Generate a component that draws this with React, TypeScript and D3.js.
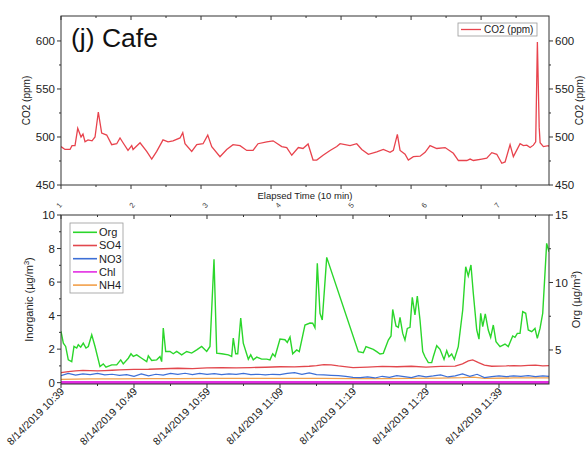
import React from 'react';
import * as d3 from 'd3';

const W = 588;
const H = 450;

// ---------- Top panel: CO2 (minutes elapsed from start) ----------
const co2Minutes = [0, 0.57, 1.29, 1.57, 2.0, 2.39, 2.86, 3.14, 3.43, 3.86, 4.43, 4.86, 5.33, 5.81, 6.53, 7.24, 7.96, 8.43, 8.86, 9.57, 10.1, 10.29, 11.29, 12.24, 12.96, 13.67, 14.57, 15.29, 16.0, 17.0, 17.39, 17.71, 18.67, 19.39, 20.29, 20.96, 21.53, 22.71, 23.67, 24.57, 25.57, 26.53, 27.43, 28.14, 29.39, 30.29, 31.53, 32.24, 32.96, 33.9, 34.57, 35.29, 36.0, 36.53, 37.43, 38.43, 39.39, 39.86, 41.29, 42.24, 42.96, 43.9, 45.1, 46.04, 47.0, 47.47, 48.04, 48.43, 49.14, 49.61, 50.33, 51.29, 52.0, 52.71, 53.67, 54.86, 56.04, 56.76, 57.96, 58.43, 58.9, 60.1, 60.81, 61.53, 62.24, 62.96, 63.43, 64.14, 64.61, 65.57, 66.04, 66.53, 67.0, 67.47, 67.8, 68.04, 68.3, 68.43, 68.9, 69.61, 69.7];
const co2Ppm = [490, 487, 487, 491, 491, 509, 500, 503, 495, 497, 496, 500, 526, 504, 502, 492, 493, 499, 494, 486, 491, 487, 494, 485, 477, 485, 497, 495, 496, 499, 504.5, 493, 485, 492, 493, 502, 490, 479.5, 487, 492, 491, 486, 486, 493, 495, 496, 490, 489, 481, 489, 488, 492.7, 476, 476, 481, 486, 490, 493, 491, 493, 487, 482, 484.5, 487, 484, 486, 502.8, 486, 482, 476, 479.5, 480, 484, 491, 488, 489, 483, 475.5, 475.5, 477, 475.5, 477, 478, 483.7, 482, 472.6, 474, 492, 479.5, 493, 491, 491.5, 489, 491.5, 495, 599, 510, 494, 490, 491, 490];

// ---------- Bottom panel (minutes from 8/14/2019 10:39) ----------
const orgMinutes = [0, 0.32, 0.64, 1.0, 1.47, 1.78, 2.15, 2.37, 2.7, 3.05, 3.42, 3.74, 4.21, 4.66, 5.34, 5.79, 6.16, 6.95, 7.63, 8.18, 8.53, 9.22, 9.59, 9.9, 10.37, 11.05, 11.74, 11.96, 12.42, 13.11, 13.56, 13.79, 14.01, 14.34, 14.93, 15.38, 15.85, 16.53, 17.22, 17.9, 18.59, 19.27, 19.96, 20.41, 20.96, 21.33, 22.01, 22.92, 23.38, 23.6, 23.93, 24.21, 24.62, 24.97, 25.66, 25.99, 26.34, 26.81, 27.49, 28.18, 28.63, 29.0, 29.32, 30.0, 30.68, 31.0, 31.37, 31.74, 32.29, 32.64, 33.42, 34.11, 34.48, 34.79, 35.11, 35.48, 35.79, 36.4, 40.73, 41.41, 41.78, 42.78, 43.25, 43.7, 44.15, 44.84, 45.21, 45.44, 45.89, 46.21, 46.44, 46.81, 47.12, 47.44, 47.81, 48.12, 48.49, 48.81, 49.18, 49.55, 49.86, 50.32, 50.78, 51.0, 51.47, 51.92, 52.47, 52.84, 53.15, 53.52, 53.88, 54.42, 55.03, 55.44, 55.79, 56.16, 56.48, 56.95, 57.26, 57.49, 57.77, 58.12, 58.53, 58.86, 59.22, 59.59, 60.14, 60.82, 61.27, 61.88, 62.19, 62.51, 62.88, 63.25, 63.66, 64.01, 64.48, 64.93, 65.25, 65.62, 65.99, 66.53, 66.85];
const orgValues = [6.38, 5.51, 5.26, 4.27, 4.14, 5.26, 5.14, 5.39, 5.21, 5.51, 5.14, 5.26, 6.13, 5.26, 3.77, 3.97, 3.72, 3.9, 3.9, 4.27, 3.97, 4.39, 4.72, 4.52, 4.64, 4.39, 4.14, 4.57, 4.22, 4.27, 4.52, 4.14, 6.63, 4.89, 4.89, 4.72, 4.89, 4.64, 4.89, 4.77, 5.01, 5.26, 4.89, 5.26, 11.72, 4.77, 4.72, 4.64, 4.52, 5.88, 4.72, 4.72, 7.37, 5.51, 4.32, 4.64, 4.27, 4.47, 4.32, 4.32, 4.27, 4.72, 4.52, 5.81, 5.76, 5.56, 5.96, 4.72, 5.0, 4.88, 6.85, 7.0, 6.98, 6.65, 11.42, 7.72, 7.22, 11.86, 4.88, 4.8, 5.25, 5.05, 4.88, 4.7, 4.75, 5.74, 6.04, 8.0, 6.78, 6.68, 7.42, 6.23, 5.74, 6.6, 6.68, 8.9, 7.6, 9.0, 7.22, 4.88, 4.5, 4.06, 4.06, 4.5, 5.32, 5.05, 4.3, 4.95, 4.5, 4.7, 4.3, 5.25, 7.96, 11.17, 10.48, 11.3, 9.2, 6.48, 5.8, 7.72, 6.73, 7.67, 6.48, 5.94, 6.85, 5.62, 5.25, 5.44, 5.25, 6.04, 5.94, 6.23, 6.23, 7.84, 7.72, 6.48, 6.36, 6.6, 5.86, 6.6, 7.72, 12.9, 12.28];

const so4Minutes = [0, 1, 2, 3, 4, 5, 6, 7, 8, 10, 12, 14, 16, 18, 20, 22, 24, 26, 28, 30, 32, 34, 35, 36, 37, 38, 40, 42, 44, 46, 48, 50, 52, 54, 55, 55.8, 56.4, 57.2, 58, 59, 61, 62, 63, 64, 65, 66, 66.85];
const so4Values = [0.6, 0.66, 0.7, 0.73, 0.72, 0.7, 0.72, 0.74, 0.76, 0.79, 0.8, 0.83, 0.86, 0.84, 0.88, 0.9, 0.88, 0.9, 0.92, 0.95, 0.94, 0.98, 1.02, 1.08, 1.06, 1.0, 0.9, 0.93, 0.97, 0.95, 0.98, 0.93, 0.97, 0.99, 1.12, 1.3, 1.36, 1.2, 1.05, 0.98, 1.0, 1.02, 1.0, 1.03, 1.04, 1.0, 1.02];

const no3Minutes = [0, 1, 2, 3, 4, 5, 6, 7, 8, 9, 10, 11, 12, 13, 14, 15, 16, 17, 18, 19, 20, 21, 22, 23, 24, 25, 26, 27, 28, 29, 30, 31, 32, 33, 34, 35, 36, 37, 38, 39, 40, 41, 42, 43, 44, 45, 46, 47, 48, 49, 50, 51, 52, 53, 54, 55, 56, 57, 58, 59, 60, 61, 62, 63, 64, 65, 66, 66.85];
const no3Values = [0.42, 0.55, 0.45, 0.52, 0.48, 0.55, 0.46, 0.5, 0.44, 0.48, 0.38, 0.52, 0.4, 0.5, 0.45, 0.55, 0.5, 0.56, 0.48, 0.55, 0.5, 0.54, 0.48, 0.52, 0.5, 0.55, 0.48, 0.5, 0.46, 0.5, 0.48, 0.55, 0.6, 0.5, 0.58, 0.48, 0.46, 0.44, 0.42, 0.38, 0.32, 0.3, 0.34, 0.28, 0.38, 0.32, 0.42, 0.36, 0.3, 0.42, 0.35, 0.4, 0.46, 0.34, 0.4, 0.52, 0.38, 0.5, 0.3, 0.36, 0.4, 0.36, 0.4, 0.38, 0.42, 0.36, 0.4, 0.38];

const nh4Minutes = [0, 4, 8, 12, 16, 20, 24, 28, 32, 36, 40, 44, 48, 52, 55, 56.5, 58, 62, 66.85];
const nh4Values = [0.2, 0.22, 0.22, 0.24, 0.24, 0.25, 0.25, 0.26, 0.26, 0.25, 0.24, 0.24, 0.25, 0.27, 0.3, 0.33, 0.26, 0.28, 0.29];

const chlMinutes = [0, 20, 40, 66.85];
const chlValues = [0.01, 0.01, 0.01, 0.01];

const elapsedTickLabels = ['1', '2', '3', '4', '5', '6', '7'];
const timeTickLabels = ['8/14/2019 10:39', '8/14/2019 10:49', '8/14/2019 10:59', '8/14/2019 11:09', '8/14/2019 11:19', '8/14/2019 11:29', '8/14/2019 11:39'];
const co2Ticks = [450, 500, 550, 600];
const inorgTicks = [0, 2, 4, 6, 8, 10];
const orgTicks = [5, 10, 15];

const legendItems = [
  { name: 'Org', color: '#2bd62b' },
  { name: 'SO4', color: '#e2474d' },
  { name: 'NO3', color: '#3d6fd6' },
  { name: 'Chl', color: '#e22de2' },
  { name: 'NH4', color: '#f2a04a' },
];

const FONT = 'Liberation Sans, Arial, sans-serif';
const AX = '#333';

export default function App() {
  const L = 61, R = 549;
  const tT = 16, tB = 185;
  const bT = 215, bB = 384;

  const xTop = d3.scaleLinear().domain([0, 69.7]).range([L, R]);
  const yTop = d3.scaleLinear().domain([450, 626]).range([tB, tT]);
  const xBot = d3.scaleLinear().domain([0, 66.85]).range([L, R]);
  const yIn = d3.scaleLinear().domain([-0.08, 10]).range([bB, bT]);
  const yOrg = d3.scaleLinear().domain([2.48, 15]).range([bB, bT]);

  const mkLine = (xs: number[], vs: number[], xs_: any, ys_: any) => {
    const g = d3.line<number>().x((_, i) => xs_(xs[i])).y((v) => ys_(v));
    return g(vs) || '';
  };

  const co2Path = mkLine(co2Minutes, co2Ppm, xTop, yTop);
  const orgPath = mkLine(orgMinutes, orgValues, xBot, yOrg);
  const so4Path = mkLine(so4Minutes, so4Values, xBot, yIn);
  const no3Path = mkLine(no3Minutes, no3Values, xBot, yIn);
  const nh4Path = mkLine(nh4Minutes, nh4Values, xBot, yIn);
  const chlPath = mkLine(chlMinutes, chlValues, xBot, yIn);

  const topMajor = d3.range(0, 61, 10);
  const topMinor = d3.range(5, 70, 10);
  const botMajor = d3.range(0, 61, 10);
  const botMinor = d3.range(5, 67, 10);
  const co2Minor = [475, 525, 575];
  const inMinor = [1, 3, 5, 7, 9];
  const orgMinor = [7.5, 12.5];

  return (
    <svg width={W} height={H} style={{ position: 'absolute', left: 0, top: 0, background: '#fff' }} fontFamily={FONT}>
      <defs>
        <clipPath id="clipTop"><rect x={L} y={tT} width={R - L} height={tB - tT} /></clipPath>
        <clipPath id="clipBot"><rect x={L} y={bT} width={R - L} height={bB - bT} /></clipPath>
      </defs>

      {/* ===== Top panel ===== */}
      <g clipPath="url(#clipTop)">
        <path d={co2Path} fill="none" stroke="#e8434d" strokeWidth={1.3} />
      </g>
      <rect x={L} y={tT} width={R - L} height={tB - tT} fill="none" stroke={AX} strokeWidth={1} />
      {topMajor.map((m) => (
        <g key={'tm' + m}>
          <line x1={xTop(m)} x2={xTop(m)} y1={tB} y2={tB + 4} stroke={AX} />
          <line x1={xTop(m)} x2={xTop(m)} y1={tT} y2={tT + 4} stroke={AX} />
        </g>
      ))}
      {topMinor.map((m) => (
        <g key={'tn' + m}>
          <line x1={xTop(m)} x2={xTop(m)} y1={tB} y2={tB + 2} stroke={AX} />
          <line x1={xTop(m)} x2={xTop(m)} y1={tT} y2={tT + 2} stroke={AX} />
        </g>
      ))}
      {co2Ticks.map((v) => (
        <g key={'c' + v}>
          <line x1={L - 4} x2={L} y1={yTop(v)} y2={yTop(v)} stroke={AX} />
          <line x1={R} x2={R + 4} y1={yTop(v)} y2={yTop(v)} stroke={AX} />
          <text x={L - 6} y={yTop(v)} dy="0.35em" textAnchor="end" fontSize={11.5} fill="#222">{v}</text>
          <text x={R + 6} y={yTop(v)} dy="0.35em" textAnchor="start" fontSize={11.5} fill="#222">{v}</text>
        </g>
      ))}
      {co2Minor.map((v) => (
        <g key={'cm' + v}>
          <line x1={L - 2} x2={L} y1={yTop(v)} y2={yTop(v)} stroke={AX} />
          <line x1={R} x2={R + 2} y1={yTop(v)} y2={yTop(v)} stroke={AX} />
        </g>
      ))}
      <text transform={`translate(30,${(tT + tB) / 2}) rotate(-90)`} textAnchor="middle" fontSize={10} fill="#222">CO2 (ppm)</text>
      <text transform={`translate(583,${(tT + tB) / 2}) rotate(-90)`} textAnchor="middle" fontSize={10} fill="#222">CO2 (ppm)</text>
      <text x={71} y={47} fontSize={26.5} fill="#111">(j) Cafe</text>
      <rect x={458} y={23} width={79} height={13} fill="#fff" stroke="#999" strokeWidth={0.8} />
      <line x1={461} x2={481} y1={29.5} y2={29.5} stroke="#e8434d" strokeWidth={1.3} />
      <text x={484} y={29.5} dy="0.35em" fontSize={10} fill="#222">CO2 (ppm)</text>

      {/* ===== Bottom panel ===== */}
      <g clipPath="url(#clipBot)">
        <path d={chlPath} fill="none" stroke="#e22de2" strokeWidth={3} />
        <path d={nh4Path} fill="none" stroke="#f2a04a" strokeWidth={1.3} />
        <path d={no3Path} fill="none" stroke="#3d6fd6" strokeWidth={1.2} />
        <path d={so4Path} fill="none" stroke="#e2474d" strokeWidth={1.3} />
        <path d={orgPath} fill="none" stroke="#2bd62b" strokeWidth={1.4} />
      </g>
      <rect x={L} y={bT} width={R - L} height={bB - bT} fill="none" stroke={AX} strokeWidth={1} />
      {botMajor.map((m, i) => (
        <g key={'bm' + m}>
          <line x1={xBot(m)} x2={xBot(m)} y1={bT} y2={bT + 4} stroke={AX} />
          <line x1={xBot(m)} x2={xBot(m)} y1={bB} y2={bB + 4} stroke={AX} />
          <text transform={`translate(${xBot(m)},207) rotate(-50)`} textAnchor="middle" fontSize={7.5} fill="#444">{elapsedTickLabels[i]}</text>
          <text transform={`translate(${xBot(m) + 4},392) rotate(-45)`} textAnchor="end" fontSize={10.5} fill="#222">{timeTickLabels[i]}</text>
        </g>
      ))}
      {botMinor.map((m) => (
        <g key={'bn' + m}>
          <line x1={xBot(m)} x2={xBot(m)} y1={bT} y2={bT + 2} stroke={AX} />
          <line x1={xBot(m)} x2={xBot(m)} y1={bB} y2={bB + 2} stroke={AX} />
        </g>
      ))}
      <text x={305} y={199} textAnchor="middle" fontSize={9.5} fill="#222">Elapsed Time (10 min)</text>
      {inorgTicks.map((v) => (
        <g key={'i' + v}>
          <line x1={L - 4} x2={L} y1={yIn(v)} y2={yIn(v)} stroke={AX} />
          <text x={L - 6} y={yIn(v)} dy="0.35em" textAnchor="end" fontSize={11.5} fill="#222">{v}</text>
        </g>
      ))}
      {inMinor.map((v) => (
        <line key={'im' + v} x1={L - 2} x2={L} y1={yIn(v)} y2={yIn(v)} stroke={AX} />
      ))}
      {orgTicks.map((v) => (
        <g key={'o' + v}>
          <line x1={R} x2={R + 4} y1={yOrg(v)} y2={yOrg(v)} stroke={AX} />
          <text x={R + 6} y={yOrg(v)} dy="0.35em" textAnchor="start" fontSize={11.5} fill="#222">{v}</text>
        </g>
      ))}
      {orgMinor.map((v) => (
        <line key={'om' + v} x1={R} x2={R + 2} y1={yOrg(v)} y2={yOrg(v)} stroke={AX} />
      ))}
      <text transform={`translate(33,${(bT + bB) / 2}) rotate(-90)`} textAnchor="middle" fontSize={11} fill="#222">
        Inorganic (µg/m<tspan dy="-4" fontSize={7.5}>3</tspan><tspan dy="4">)</tspan>
      </text>
      <text transform={`translate(580,${(bT + bB) / 2}) rotate(-90)`} textAnchor="middle" fontSize={11} fill="#222">
        Org (µg/m<tspan dy="-4" fontSize={7.5}>3</tspan><tspan dy="4">)</tspan>
      </text>
      <rect x={70} y={223} width={53} height={70} fill="#fff" stroke="#999" strokeWidth={0.8} />
      {legendItems.map((it, i) => (
        <g key={it.name}>
          <line x1={73} x2={97} y1={232.3 + i * 13.2} y2={232.3 + i * 13.2} stroke={it.color} strokeWidth={1.6} />
          <text x={99} y={232.3 + i * 13.2} dy="0.35em" fontSize={11} fill="#222">{it.name}</text>
        </g>
      ))}
    </svg>
  );
}
